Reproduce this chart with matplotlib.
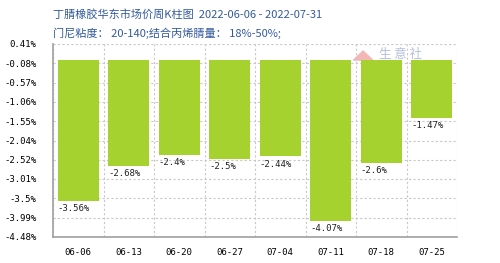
#!/usr/bin/env python3

import numpy as np
import matplotlib
matplotlib.use('Agg')
from matplotlib import pyplot as plt
from matplotlib.patches import Polygon

plt.rcParams['font.family'] = ['Noto Sans CJK SC', 'DejaVu Sans']

weeks = ['06-06', '06-13', '06-20', '06-27', '07-04', '07-11', '07-18', '07-25']
change = [-3.56, -2.68, -2.4, -2.5, -2.44, -4.07, -2.6, -1.47]
yticks = [0.41, -0.08, -0.57, -1.06, -1.55, -2.04, -2.52, -3.01, -3.5, -3.99, -4.48]
title1 = '丁腈橡胶华东市场价周K柱图  2022-06-06 - 2022-07-31'
title2 = '门尼粘度： 20-140;结合丙烯腈量： 18%-50%;'

fig = plt.figure(figsize=(5, 2.63), dpi=100)
ax = fig.add_axes([0.106, 0.099, 0.808, 0.734])

# watermark
ax.add_patch(Polygon([[5.45, 0.0], [5.83, 0.0], [5.64, 0.23]],
                     closed=True, color='#f4b6b6', zorder=1, clip_on=False))
ax.text(5.95, 0.13, '生 意 社', fontsize=9, color='#b4c0da', va='center',
        ha='left', zorder=1)

x = np.arange(len(weeks))
ax.bar(x, change, width=0.81, color='#a6d22f', zorder=3)
for xi, v in zip(x, change):
    ax.text(xi - 0.405, v - 0.08, '{:g}%'.format(v), ha='left', va='top',
            fontsize=6.5, family='DejaVu Sans Mono', color='#222222', zorder=4)

ax.set_xlim(-0.5, len(weeks) - 0.5)
ax.set_ylim(yticks[-1], yticks[0])
ax.set_xticks(x)
ax.set_xticklabels(weeks, family='DejaVu Sans Mono', fontsize=6.5)
ax.set_xticks(np.arange(len(weeks) + 1) - 0.5, minor=True)
ax.set_yticks(yticks)
ax.set_yticklabels(['{:g}%'.format(t) for t in yticks],
                   family='DejaVu Sans Mono', fontsize=6.5)
ax.tick_params(which='both', length=0)
ax.tick_params(axis='x', pad=8)
ax.tick_params(axis='y', pad=12)

ax.grid(True, axis='y', which='major', linestyle=(0, (2, 2)),
        color='#c8c8c8', linewidth=0.8, zorder=0)
ax.grid(True, axis='x', which='minor', linestyle=(0, (2, 2)),
        color='#c8c8c8', linewidth=0.8, zorder=0)
ax.grid(False, axis='x', which='major')
for s in ['top', 'right']:
    ax.spines[s].set_visible(False)
for s in ['left', 'bottom']:
    ax.spines[s].set_color('#a0a0a0')
    ax.spines[s].set_linewidth(1.2)

fig.text(0.106, 0.945, title1, fontsize=8, color='#335a9c', va='center')
fig.text(0.106, 0.873, title2, fontsize=8, color='#335a9c', va='center')

plt.savefig('out.png', dpi=100)
